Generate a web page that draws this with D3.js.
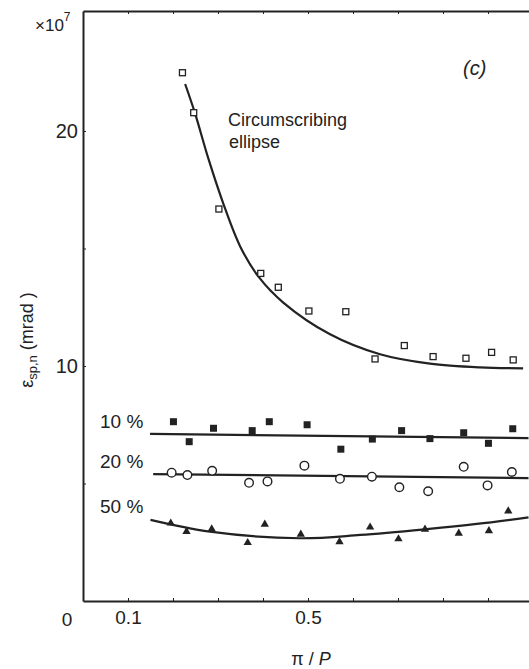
<!DOCTYPE html>
<html>
<head>
<meta charset="utf-8">
<script src="https://cdn.jsdelivr.net/npm/d3@7"></script>
<style>
  body { margin: 0; background: #fff; }
  svg text { font-family: "Liberation Sans", Arial, sans-serif; fill: #222; }
  .axis path, .axis line { stroke: #222; }
</style>
</head>
<body>
<svg id="chart" width="529" height="669"></svg>
<script>
// --- Data (x = pi/P, y in units of 1e7 mrad) ---
const ellipsePoints = [
  [0.221, 22.48], [0.246, 20.78], [0.302, 16.68], [0.395, 13.94], [0.434, 13.35],
  [0.502, 12.34], [0.584, 12.31], [0.649, 10.30], [0.714, 10.87], [0.778, 10.40],
  [0.851, 10.33], [0.908, 10.58], [0.956, 10.26]
];
const ellipseFit = [
  [0.227, 22.0], [0.249, 20.75], [0.279, 18.8], [0.312, 16.9], [0.349, 15.1],
  [0.39, 13.8], [0.445, 12.7], [0.549, 11.35], [0.66, 10.5], [0.771, 10.1],
  [0.882, 9.94], [0.978, 9.9]
];

const p10Points = [
  [0.201, 7.63], [0.236, 6.78], [0.290, 7.35], [0.376, 7.25], [0.414, 7.63],
  [0.498, 7.50], [0.573, 6.46], [0.643, 6.89], [0.708, 7.25], [0.771, 6.91],
  [0.846, 7.16], [0.901, 6.71], [0.955, 7.33]
];
const p10Fit = [[0.149, 7.11], [0.99, 6.93]];

const p20Points = [
  [0.197, 5.46], [0.232, 5.36], [0.287, 5.54], [0.369, 5.03], [0.410, 5.09],
  [0.492, 5.76], [0.571, 5.20], [0.642, 5.29], [0.703, 4.84], [0.767, 4.67],
  [0.846, 5.71], [0.899, 4.92], [0.953, 5.49]
];
const p20Fit = [[0.156, 5.40], [0.99, 5.23]];

const p50Points = [
  [0.195, 3.31], [0.230, 2.95], [0.286, 3.06], [0.366, 2.48], [0.404, 3.26],
  [0.484, 2.84], [0.570, 2.52], [0.638, 3.14], [0.701, 2.64], [0.760, 3.05],
  [0.835, 2.88], [0.902, 2.99], [0.945, 3.83]
];
const p50Fit = [
  [0.150, 3.45], [0.282, 2.95], [0.482, 2.67], [0.616, 2.81], [0.764, 3.06],
  [0.875, 3.28], [0.99, 3.56]
];

const xTicks = [0.1, 0.2, 0.3, 0.4, 0.5, 0.6, 0.7, 0.8, 0.9];
const xTickLabels = { 0.1: "0.1", 0.5: "0.5" };
const yTicks = [5, 10, 15, 20];
const yTickLabels = { 10: "10", 20: "20" };

// --- Layout ---
const svg = d3.select("#chart");
const x0 = 83, x1 = 529, yTop = 11, yBottom = 601;

const x = d3.scaleLinear().domain([0, (x1 - x0) / 450]).range([x0, x1]);
const y = d3.scaleLinear().domain([0, (yBottom - yTop) / 23.5]).range([yBottom, yTop]);

const ink = "#222";

// bottom axis, ticks pointing inward
svg.append("g")
  .attr("class", "axis")
  .attr("transform", `translate(0,${yBottom})`)
  .call(d3.axisBottom(x).tickValues(xTicks).tickSizeInner(-3).tickSizeOuter(0)
    .tickPadding(10).tickFormat(d => xTickLabels[d] || ""))
  .call(g => g.select(".domain").attr("stroke-width", 2))
  .call(g => g.selectAll("text").style("font-size", "19px"));

// top frame line with ticks
svg.append("g")
  .attr("class", "axis")
  .attr("transform", `translate(0,${yTop})`)
  .call(d3.axisTop(x).tickValues(xTicks).tickSizeInner(-3).tickSizeOuter(0).tickFormat(""))
  .call(g => g.select(".domain").attr("stroke-width", 2));

// left axis
svg.append("g")
  .attr("class", "axis")
  .attr("transform", `translate(${x0},0)`)
  .call(d3.axisLeft(y).tickValues(yTicks).tickSizeInner(-3).tickSizeOuter(0)
    .tickPadding(5).tickFormat(d => yTickLabels[d] || ""))
  .call(g => g.select(".domain").attr("stroke-width", 2))
  .call(g => g.selectAll("text").style("font-size", "20px"));

// origin label
svg.append("text").attr("x", 67).attr("y", 626)
  .attr("text-anchor", "middle").style("font-size", "19px").text("0");

// x10^7 multiplier
const mult = svg.append("text").attr("x", 35).attr("y", 31).style("font-size", "17px");
mult.append("tspan").text("\u00d710");
mult.append("tspan").attr("dy", -10).style("font-size", "12px").text("7");

// axis titles
const yl = svg.append("text")
  .attr("transform", "translate(33,340) rotate(-90)")
  .attr("text-anchor", "middle")
  .style("font-size", "18px");
yl.append("tspan").text("\u03b5");
yl.append("tspan").attr("dy", 4).style("font-size", "13px").text("sp,n");
yl.append("tspan").attr("dy", -4).text("  (mrad )");

const xl = svg.append("text").attr("x", 311).attr("y", 665)
  .attr("text-anchor", "middle").style("font-size", "18px");
xl.append("tspan").text("\u03c0 / ");
xl.append("tspan").style("font-style", "italic").text("P");

// panel label and annotations
svg.append("text").attr("x", 463).attr("y", 75)
  .style("font-size", "20px").style("font-style", "italic").text("(c)");

svg.append("text").attr("x", 228).attr("y", 126).style("font-size", "18px").text("Circumscribing");
svg.append("text").attr("x", 229).attr("y", 148).style("font-size", "18px").text("ellipse");

svg.append("text").attr("x", 100).attr("y", 428).style("font-size", "19px").text("10 %");
svg.append("text").attr("x", 100).attr("y", 468).style("font-size", "19px").text("20 %");
svg.append("text").attr("x", 100).attr("y", 513).style("font-size", "19px").text("50 %");

// --- Fitted curves ---
const line = d3.line().x(d => x(d[0])).y(d => y(d[1])).curve(d3.curveCatmullRom.alpha(0.5));
[ellipseFit, p10Fit, p20Fit, p50Fit].forEach(fit => {
  svg.append("path")
    .datum(fit)
    .attr("d", line)
    .attr("fill", "none")
    .attr("stroke", ink)
    .attr("stroke-width", 2.2);
});

// --- Markers ---
const sq = 6;
svg.append("g").selectAll("rect")
  .data(ellipsePoints).join("rect")
  .attr("x", d => x(d[0]) - sq / 2).attr("y", d => y(d[1]) - sq / 2)
  .attr("width", sq).attr("height", sq)
  .attr("fill", "#fff").attr("stroke", ink).attr("stroke-width", 1.3);

svg.append("g").selectAll("rect")
  .data(p10Points).join("rect")
  .attr("x", d => x(d[0]) - 3.5).attr("y", d => y(d[1]) - 3.5)
  .attr("width", 7).attr("height", 7)
  .attr("fill", ink);

svg.append("g").selectAll("circle")
  .data(p20Points).join("circle")
  .attr("cx", d => x(d[0])).attr("cy", d => y(d[1]))
  .attr("r", 4.3)
  .attr("fill", "#fff").attr("stroke", ink).attr("stroke-width", 1.4);

const tri = d3.symbol().type(d3.symbolTriangle).size(30);
svg.append("g").selectAll("path")
  .data(p50Points).join("path")
  .attr("transform", d => `translate(${x(d[0])},${y(d[1])})`)
  .attr("d", tri)
  .attr("fill", ink);
</script>
</body>
</html>
